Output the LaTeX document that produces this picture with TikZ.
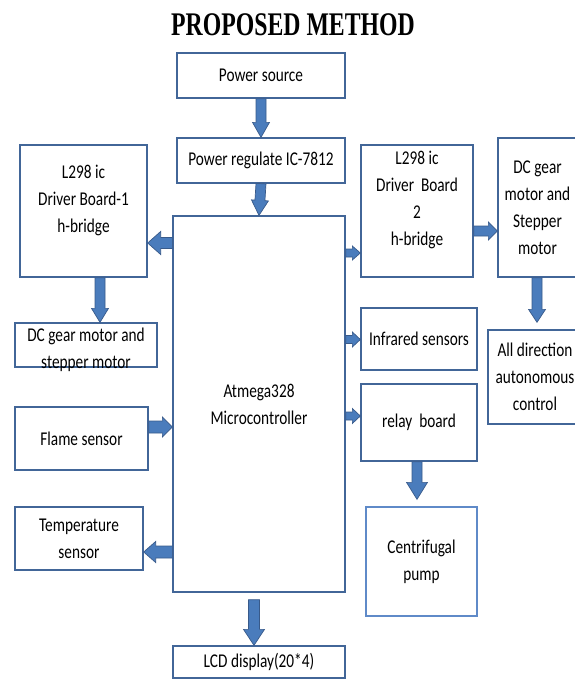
\documentclass[tikz,border=0pt]{standalone}
\usepackage{fontspec}
\setmainfont{Carlito}[FakeStretch=0.785]
\newfontfamily\titlefont{Liberation Serif}[FakeStretch=0.72]
\usetikzlibrary{calc}
\definecolor{boxc}{RGB}{66,102,152}
\definecolor{boxl}{RGB}{95,138,200}
\definecolor{arrf}{RGB}{74,124,188}
\definecolor{arrd}{RGB}{56,90,138}
\tikzset{
  box/.style={draw=boxc, line width=1.3pt, fill=white, inner sep=0pt, align=center,
    font=\fontsize{19.5}{27}\selectfont},
  txt/.style={inner sep=0pt, align=center, font=\fontsize{19.5}{27}\selectfont},
  arr/.style={fill=arrf, draw=arrd, line width=0.7pt, line join=miter},
}
% block arrow: shaft half width, head half width, head length, from, to
\newcommand\barr[5]{%
  \coordinate (bA) at (#4);
  \coordinate (bB) at (#5);
  \coordinate (bH) at ($(bB)!#3pt!(bA)$);
  \path[arr] ($(bA)!#1pt!90:(bB)$) -- ($(bH)!#1pt!-90:(bA)$) -- ($(bH)!#2pt!-90:(bA)$)
    -- (bB) -- ($(bH)!#2pt!90:(bA)$) -- ($(bH)!#1pt!90:(bA)$) -- ($(bA)!#1pt!-90:(bB)$) -- cycle;}
\begin{document}
\begin{tikzpicture}[x=1pt,y=-1pt]
\useasboundingbox (0,0) rectangle (575,680);
\clip (0,0) rectangle (575,680);

\node[anchor=base, inner sep=0pt, font=\titlefont\bfseries\fontsize{33}{36}\selectfont] (title) at (293,35) {PROPOSED METHOD};

% boxes
\node[box, minimum width=168pt, minimum height=45pt] (ps) at (261,75.5) {Power source};
\node[box, minimum width=168pt, minimum height=45pt] (pr) at (261,160.5) {Power regulate IC-7812};
\node[box, minimum width=172pt, minimum height=376pt] (micro) at (259,404) {Atmega328\\Microcontroller};
\node[box, minimum width=127pt, minimum height=132pt] (l1) at (83.5,211) {};
\node[txt, yshift=11pt] (l1t) at (l1) {L298 ic\\Driver Board-1\\h-bridge};
\node[box, minimum width=112pt, minimum height=132pt] (r1) at (417,211) {};
\node[txt, yshift=11pt] (r1t) at (r1) {L298 ic\\Driver~~Board\\2\\h-bridge};
\node[box, minimum width=79pt, minimum height=139pt] (dcr) at (537.5,207.5) {DC gear\\motor and\\Stepper\\motor};
\node[box, minimum width=142pt, minimum height=44pt] (dcl) at (86,345) {};
\node[txt, yshift=-5pt] (dclt) at (dcl) {DC gear motor and\\stepper motor};
\node[box, minimum width=133pt, minimum height=63pt] (fl) at (81.5,438.5) {Flame sensor};
\node[box, minimum width=128pt, minimum height=63pt] (tp) at (79,538.5) {Temperature\\sensor};
\node[box, minimum width=116pt, minimum height=62pt] (ir) at (419,339) {Infrared sensors};
\node[box, minimum width=116pt, minimum height=77pt] (rb) at (419,422.5) {relay~~board};
\node[box, draw=boxl, minimum width=111pt, minimum height=109pt] (cp) at (421.5,561.5) {Centrifugal\\pump};
\node[box, minimum width=94pt, minimum height=94pt] (ad) at (535,377) {All direction\\autonomous\\control};
\node[box, minimum width=172pt, minimum height=32pt] (lcd) at (259,662) {LCD display(20*4)};

% free arrow ends
\coordinate (adtip) at ($(ad.north -| 537,0)+(0,-7)$);
\coordinate (cptip) at ($(cp.north -| 417,0)+(0,-7)$);
\coordinate (lcdtail) at ($(micro.south -| 254,0)+(0,7)$);

% arrows
\barr{5}{8.5}{15}{ps.south}{pr.north}
\barr{5}{8.5}{15}{pr.south}{micro.north}
\barr{5.5}{11.5}{13}{micro.west |- 0,243}{l1.east |- 0,243}
\barr{4}{7}{8}{micro.east |- 0,253}{r1.west |- 0,253}
\barr{5}{9}{9}{r1.east |- 0,231}{dcr.west |- 0,231}
\barr{5}{8.5}{14}{l1.south -| 100,0}{dcl.north -| 100,0}
\barr{5}{8.5}{13}{dcr.south -| 537,0}{adtip}
\barr{4}{7.5}{8}{micro.east |- 0,339.5}{ir.west |- 0,339.5}
\barr{4}{7.5}{8}{micro.east |- 0,416}{rb.west |- 0,416}
\barr{5}{10.5}{17}{rb.south -| 417,0}{cptip}
\barr{6}{10}{10}{fl.east |- 0,427}{micro.west |- 0,427}
\barr{6}{10.5}{12}{micro.west |- 0,552}{tp.east |- 0,552}
\barr{5.5}{10.5}{16}{lcdtail}{lcd.north -| 254,0}
\end{tikzpicture}
\end{document}
